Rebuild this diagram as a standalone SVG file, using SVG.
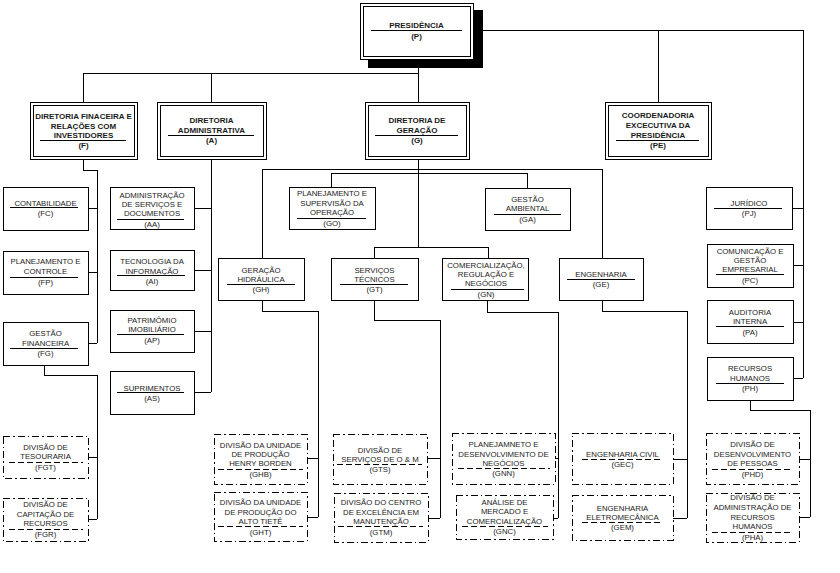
<svg xmlns="http://www.w3.org/2000/svg" width="840" height="573" viewBox="0 0 840 573">
<style>
.bg{fill:#fff}
.b{fill:#fff;stroke:#000;stroke-width:1;shape-rendering:crispEdges}
.d{fill:#fff;stroke:#000;stroke-width:1;stroke-dasharray:7 3 1.5 3;shape-rendering:crispEdges}
.u{stroke:#000;stroke-width:1;shape-rendering:crispEdges}
.ud{stroke:#000;stroke-width:1;stroke-dasharray:6 3;shape-rendering:crispEdges}
.c path{fill:none;stroke:#000;stroke-width:1;shape-rendering:crispEdges}
text{font-family:"Liberation Sans",Arial,sans-serif;font-size:7.8px;text-anchor:middle;fill:#1a1a1a}
.k{font-weight:bold;font-size:8px}
</style>
<rect class="bg" x="0" y="0" width="840" height="573"/>
<g class="c" id="connectors">
<path d="M418 59V102M83 73H418M83 73V102M211 73V102"/>
<path d="M483 30H803V378M658 30V102M792 208H803M793 265H803M793 322H803M793 378H803"/>
<path d="M83 159V170H97V343M88 208H97M88 272H97M88 343H97"/>
<path d="M44 365V375H97V519M88 457H97M88 519H97"/>
<path d="M211 159V392M194 208H211M194 270H211M194 331H211M194 392H211"/>
<path d="M418 159V247M262 258V169H602V258M331 187V173H527V188M374 258V247H488V258"/>
<path d="M262 300V311H318V517M307 458H318M307 517H318"/>
<path d="M374 300V320H440V518M427 458H440M428 518H440"/>
<path d="M487 300V312H558V518M555 458H558M553 518H558"/>
<path d="M602 300V311H687V518M673 459H687M673 518H687"/>
<path d="M750 400V410H810V517M799 459H810M799 517H810"/>
</g>
<g id="P">
<rect x="368" y="10" width="115" height="58" fill="#000"/>
<rect class="b" x="360" y="3" width="113" height="56"/>
<rect class="b" x="363" y="6" width="107" height="50"/>
<text class="k" x="416.5" y="28">PRESIDÊNCIA</text>
<line class="u" x1="371" y1="30.5" x2="462" y2="30.5"/>
<text class="k" x="416.5" y="38.5">(P)</text>
</g>
<g id="F">
<rect class="b" x="30" y="102" width="107" height="57"/>
<rect class="b" x="33" y="105" width="101" height="51"/>
<text class="k" x="83.5" y="118.5">DIRETORIA FINACEIRA E</text>
<text class="k" x="83.5" y="128.5">RELAÇÕES COM</text>
<text class="k" x="83.5" y="138">INVESTIDORES</text>
<line class="u" x1="40" y1="140.5" x2="126" y2="140.5"/>
<text class="k" x="83.5" y="147.5">(F)</text>
</g>
<g id="A">
<rect class="b" x="157" y="102" width="109" height="57"/>
<rect class="b" x="160" y="105" width="103" height="51"/>
<text class="k" x="211.5" y="123">DIRETORIA</text>
<text class="k" x="211.5" y="133">ADMINISTRATIVA</text>
<line class="u" x1="168" y1="135.5" x2="254" y2="135.5"/>
<text class="k" x="211.5" y="143">(A)</text>
</g>
<g id="G">
<rect class="b" x="365" y="102" width="104" height="57"/>
<rect class="b" x="368" y="105" width="98" height="51"/>
<text class="k" x="417" y="123">DIRETORIA DE</text>
<text class="k" x="417" y="133">GERAÇÃO</text>
<line class="u" x1="375" y1="135.5" x2="458" y2="135.5"/>
<text class="k" x="417" y="143">(G)</text>
</g>
<g id="PE">
<rect class="b" x="605" y="102" width="106" height="57"/>
<rect class="b" x="608" y="105" width="100" height="51"/>
<text class="k" x="658" y="118">COORDENADORIA</text>
<text class="k" x="658" y="128">EXCECUTIVA DA</text>
<text class="k" x="658" y="137.5">PRESIDÊNCIA</text>
<line class="u" x1="616" y1="140.5" x2="699" y2="140.5"/>
<text class="k" x="658" y="148">(PE)</text>
</g>
<g id="FC">
<rect class="b" x="3" y="187" width="85" height="43"/>
<text x="45.5" y="205.5">CONTABILIDADE</text>
<line class="u" x1="10" y1="207.5" x2="78" y2="207.5"/>
<text x="45.5" y="215.5">(FC)</text>
</g>
<g id="FP">
<rect class="b" x="3" y="251" width="85" height="43"/>
<text x="45.5" y="264">PLANEJAMENTO E</text>
<text x="45.5" y="274">CONTROLE</text>
<line class="u" x1="10" y1="277.5" x2="78" y2="277.5"/>
<text x="45.5" y="285">(FP)</text>
</g>
<g id="FG">
<rect class="b" x="3" y="322" width="85" height="43"/>
<text x="45.5" y="335.5">GESTÃO</text>
<text x="45.5" y="345.5">FINANCEIRA</text>
<line class="u" x1="10" y1="348.5" x2="78" y2="348.5"/>
<text x="45.5" y="356">(FG)</text>
</g>
<g id="FGT">
<rect class="d" x="3" y="436" width="85" height="42"/>
<text x="45.5" y="450">DIVISÃO DE</text>
<text x="45.5" y="459">TESOURARIA</text>
<line class="ud" x1="9" y1="462" x2="83" y2="462"/>
<text x="45.5" y="469.5">(FGT)</text>
</g>
<g id="FGR">
<rect class="d" x="3" y="498" width="85" height="43"/>
<text x="45.5" y="506.5">DIVISÃO DE</text>
<text x="45.5" y="516.5">CAPITAÇÃO DE</text>
<text x="45.5" y="526">RECURSOS</text>
<line class="ud" x1="9" y1="529.5" x2="83" y2="529.5"/>
<text x="45.5" y="537">(FGR)</text>
</g>
<g id="AA">
<rect class="b" x="110" y="187" width="84" height="42"/>
<text x="152" y="197.5">ADMINISTRAÇÃO</text>
<text x="152" y="207">DE SERVIÇOS E</text>
<text x="152" y="216">DOCUMENTOS</text>
<line class="u" x1="117" y1="219" x2="184" y2="219"/>
<text x="152" y="226.5">(AA)</text>
</g>
<g id="AI">
<rect class="b" x="110" y="250" width="84" height="40"/>
<text x="152" y="264">TECNOLOGIA DA</text>
<text x="152" y="273.5">INFORMAÇÃO</text>
<line class="u" x1="117" y1="275.5" x2="185" y2="275.5"/>
<text x="152" y="283.5">(AI)</text>
</g>
<g id="AP">
<rect class="b" x="110" y="310" width="84" height="42"/>
<text x="152" y="322.5">PATRIMÔMIO</text>
<text x="152" y="332">IMOBILIÁRIO</text>
<line class="u" x1="117" y1="334.5" x2="184" y2="334.5"/>
<text x="152" y="342.5">(AP)</text>
</g>
<g id="AS">
<rect class="b" x="110" y="371" width="84" height="43"/>
<text x="152" y="390.5">SUPRIMENTOS</text>
<line class="u" x1="117" y1="392.5" x2="184" y2="392.5"/>
<text x="152" y="400.5">(AS)</text>
</g>
<g id="GO">
<rect class="b" x="289" y="187" width="86" height="42"/>
<text x="332" y="196">PLANEJAMENTO E</text>
<text x="332" y="206">SUPERVISÃO DA</text>
<text x="332" y="215">OPERAÇÃO</text>
<line class="u" x1="297" y1="218.5" x2="366" y2="218.5"/>
<text x="332" y="226">(GO)</text>
</g>
<g id="GA">
<rect class="b" x="485" y="188" width="85" height="42"/>
<text x="527.5" y="201.5">GESTÃO</text>
<text x="527.5" y="211">AMBIENTAL</text>
<line class="u" x1="494" y1="214" x2="561" y2="214"/>
<text x="527.5" y="221.5">(GA)</text>
</g>
<g id="GH">
<rect class="b" x="218" y="258" width="86" height="42"/>
<text x="261" y="272.5">GERAÇÃO</text>
<text x="261" y="281.5">HIDRÁULICA</text>
<line class="u" x1="227" y1="284" x2="295" y2="284"/>
<text x="261" y="292">(GH)</text>
</g>
<g id="GT">
<rect class="b" x="331" y="258" width="87" height="42"/>
<text x="374.5" y="272.5">SERVIÇOS</text>
<text x="374.5" y="281.5">TÉCNICOS</text>
<line class="u" x1="340" y1="284" x2="408" y2="284"/>
<text x="374.5" y="292">(GT)</text>
</g>
<g id="GN">
<rect class="b" x="442" y="258" width="86" height="42"/>
<text x="486" y="267.5">COMERCIALIZAÇÃO,</text>
<text x="486" y="276.5">REGULAÇÃO E</text>
<text x="486" y="285.5">NEGÓCIOS</text>
<line class="u" x1="451" y1="289" x2="524" y2="289"/>
<text x="486" y="296.5">(GN)</text>
</g>
<g id="GE">
<rect class="b" x="559" y="258" width="84" height="42"/>
<text x="601" y="277">ENGENHARIA</text>
<line class="u" x1="567" y1="279" x2="635" y2="279"/>
<text x="601" y="286.5">(GE)</text>
</g>
<g id="GHB">
<rect class="d" x="214" y="434" width="93" height="50"/>
<text x="260.5" y="447.5">DIVISÃO DA UNIDADE</text>
<text x="260.5" y="456.5">DE PRODUÇÃO</text>
<text x="260.5" y="466">HENRY BORDEN</text>
<line class="ud" x1="218" y1="469" x2="303" y2="469"/>
<text x="260.5" y="476.5">(GHB)</text>
</g>
<g id="GHT">
<rect class="d" x="214" y="492" width="93" height="49"/>
<text x="260.5" y="505">DIVISÃO DA UNIDADE</text>
<text x="260.5" y="514.5">DE PRODUÇÃO DO</text>
<text x="260.5" y="524">ALTO TIETÊ</text>
<line class="ud" x1="218" y1="526" x2="303" y2="526"/>
<text x="260.5" y="534.5">(GHT)</text>
</g>
<g id="GTS">
<rect class="d" x="333" y="434" width="94" height="50"/>
<text x="380" y="452.5">DIVISÃO DE</text>
<text x="380" y="461.5">SERVIÇOS DE O &amp; M</text>
<line class="ud" x1="337" y1="464" x2="422" y2="464"/>
<text x="380" y="471.5">(GTS)</text>
</g>
<g id="GTM">
<rect class="d" x="334" y="493" width="94" height="49"/>
<text x="381" y="505">DIVISÃO DO CENTRO</text>
<text x="381" y="514.5">DE EXCELÊNCIA EM</text>
<text x="381" y="524">MANUTENÇÃO</text>
<line class="ud" x1="338" y1="526" x2="423" y2="526"/>
<text x="381" y="534.5">(GTM)</text>
</g>
<g id="GNN">
<rect class="d" x="452" y="433" width="103" height="51"/>
<text x="503.5" y="446.5">PLANEJAMNETO E</text>
<text x="503.5" y="456.5">DESENVOLVIMENTO DE</text>
<text x="503.5" y="466">NEGÓCIOS</text>
<line class="ud" x1="458" y1="468.5" x2="550" y2="468.5"/>
<text x="503.5" y="475.5">(GNN)</text>
</g>
<g id="GNC">
<rect class="d" x="456" y="495" width="97" height="44"/>
<text x="504.5" y="505">ANÁLISE DE</text>
<text x="504.5" y="514">MERCADO E</text>
<text x="504.5" y="524">COMERCIALIZAÇÃO</text>
<line class="ud" x1="462" y1="526" x2="548" y2="526"/>
<text x="504.5" y="533.5">(GNC)</text>
</g>
<g id="GEC">
<rect class="d" x="572" y="433" width="101" height="51"/>
<text x="622.5" y="457">ENGENHARIA CIVIL</text>
<line class="ud" x1="582" y1="459.5" x2="662" y2="459.5"/>
<text x="622.5" y="467">(GEC)</text>
</g>
<g id="GEM">
<rect class="d" x="572" y="495" width="101" height="45"/>
<text x="622.5" y="510.5">ENGENHARIA</text>
<text x="622.5" y="520">ELETROMECÂNICA</text>
<line class="ud" x1="582" y1="522.5" x2="662" y2="522.5"/>
<text x="622.5" y="530">(GEM)</text>
</g>
<g id="PJ">
<rect class="b" x="706" y="187" width="86" height="42"/>
<text x="749" y="205.5">JURÍDICO</text>
<line class="u" x1="714" y1="208.5" x2="782" y2="208.5"/>
<text x="749" y="216">(PJ)</text>
</g>
<g id="PC">
<rect class="b" x="707" y="244" width="86" height="43"/>
<text x="750" y="253.5">COMUNICAÇÃO E</text>
<text x="750" y="262.5">GESTÃO</text>
<text x="750" y="272">EMPRESARIAL</text>
<line class="u" x1="716" y1="274.5" x2="784" y2="274.5"/>
<text x="750" y="283">(PC)</text>
</g>
<g id="PA">
<rect class="b" x="707" y="300" width="86" height="43"/>
<text x="750" y="314.5">AUDITORIA</text>
<text x="750" y="324">INTERNA</text>
<line class="u" x1="716" y1="326.5" x2="784" y2="326.5"/>
<text x="750" y="335">(PA)</text>
</g>
<g id="PH">
<rect class="b" x="707" y="357" width="86" height="43"/>
<text x="750" y="371">RECURSOS</text>
<text x="750" y="381">HUMANOS</text>
<line class="u" x1="716" y1="383.5" x2="784" y2="383.5"/>
<text x="750" y="391">(PH)</text>
</g>
<g id="PHD">
<rect class="d" x="706" y="433" width="93" height="51"/>
<text x="752.5" y="446.5">DIVISÃO DE</text>
<text x="752.5" y="456.5">DESENVOLVIMENTO</text>
<text x="752.5" y="466">DE PESSOAS</text>
<line class="ud" x1="712" y1="469.5" x2="792" y2="469.5"/>
<text x="752.5" y="476.5">(PHD)</text>
</g>
<g id="PHA">
<rect class="d" x="706" y="493" width="93" height="49"/>
<text x="752.5" y="500">DIVISÃO DE</text>
<text x="752.5" y="510">ADMINISTRAÇÃO DE</text>
<text x="752.5" y="519.5">RECURSOS</text>
<text x="752.5" y="528.5">HUMANOS</text>
<line class="ud" x1="712" y1="532.5" x2="792" y2="532.5"/>
<text x="752.5" y="540">(PHA)</text>
</g>
</svg>
